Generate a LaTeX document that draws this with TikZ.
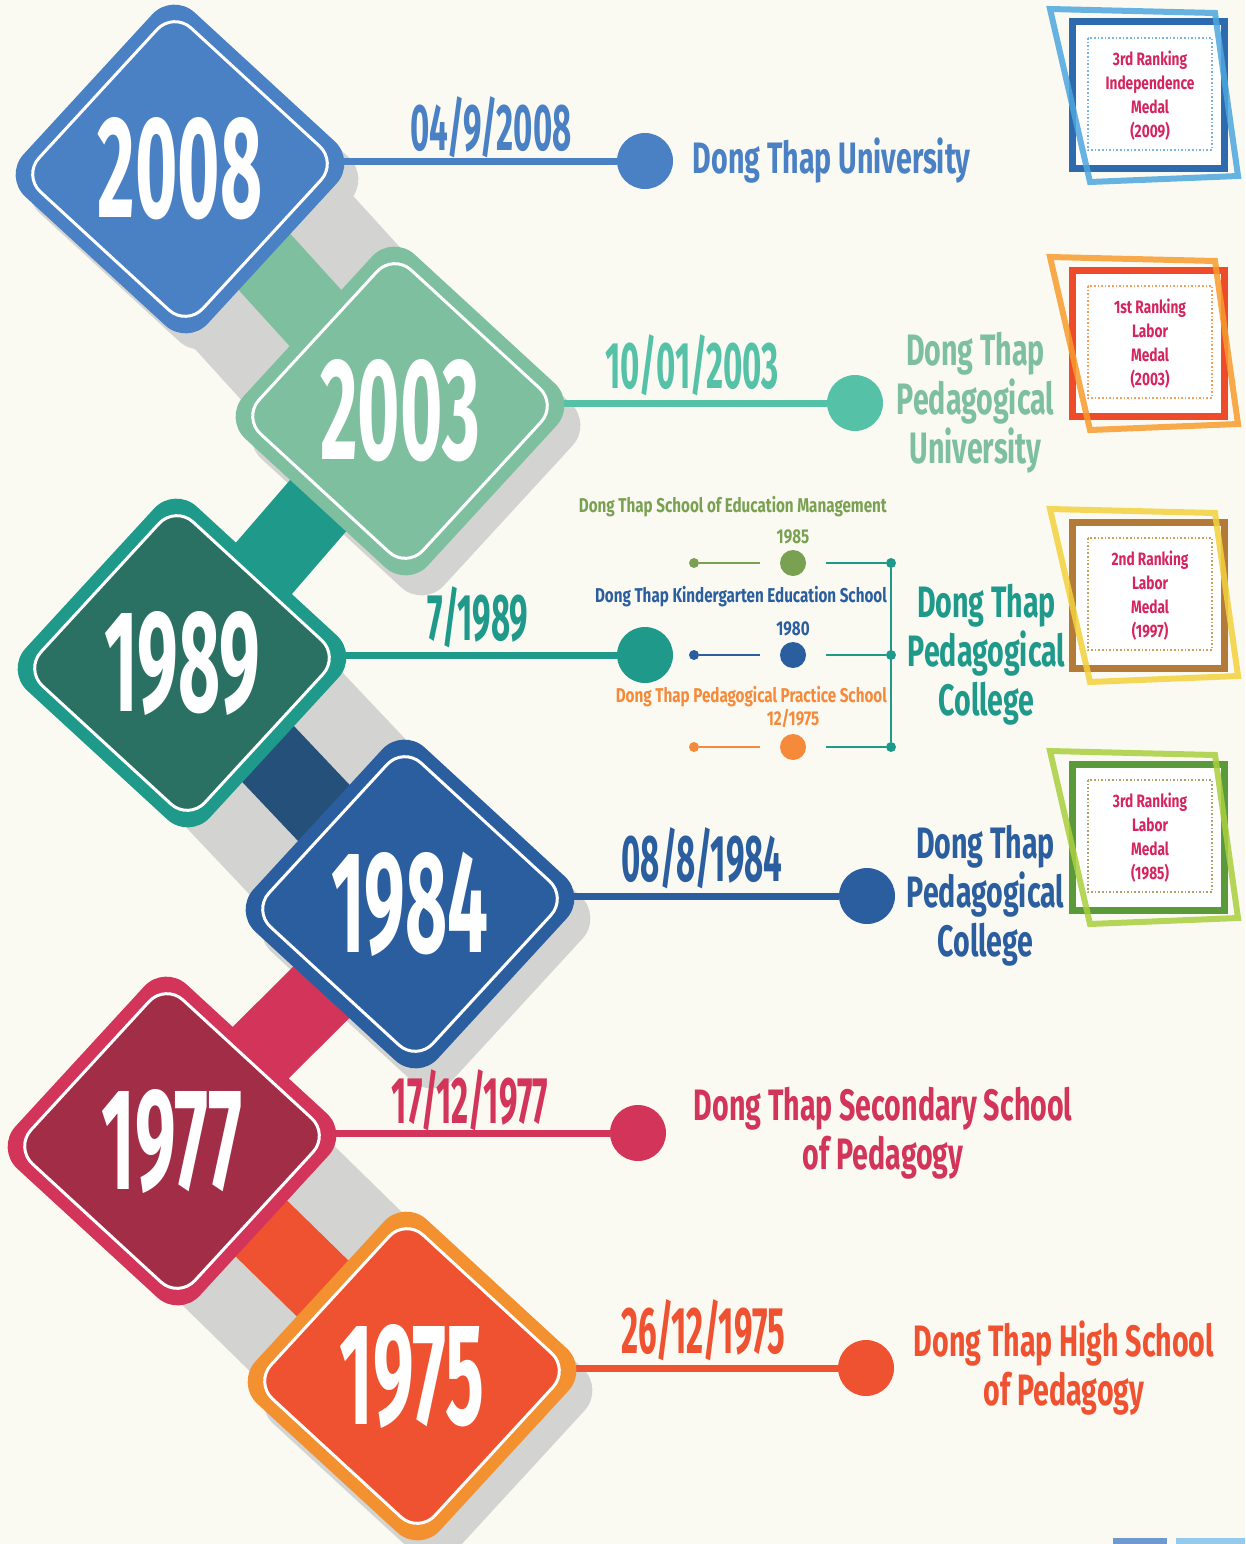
\documentclass[tikz,border=0pt]{standalone}
\usepackage{fontspec}
\usepackage{tikz}
\usetikzlibrary{positioning}
\usetikzlibrary{shapes,shapes.geometric,calc}

\newfontfamily\yearfont[FakeStretch=0.5]{Fira Sans}
\newfontfamily\namefont[FakeStretch=0.65]{Fira Sans}
\newfontfamily\smallfont[FakeStretch=0.76]{Fira Sans}

\definecolor{cream}{HTML}{FAFAF3}
\definecolor{shadowgrey}{HTML}{D3D3D1}
\definecolor{c2008}{HTML}{4A80C4}
\definecolor{c2003}{HTML}{7DBF9E}
\definecolor{l2003}{HTML}{55C2A8}
\definecolor{c1989}{HTML}{1F9A8A}
\definecolor{k1989}{HTML}{2A7163}
\definecolor{bar1984}{HTML}{24507A}
\definecolor{c1984}{HTML}{2B5E9F}
\definecolor{c1977}{HTML}{D3355A}
\definecolor{k1977}{HTML}{A22D47}
\definecolor{c1975}{HTML}{F39130}
\definecolor{k1975}{HTML}{EF5230}
\definecolor{c1985}{HTML}{7AA152}
\definecolor{c1980}{HTML}{2B5E9F}
\definecolor{c12b}{HTML}{F58A3A}
\definecolor{medalred}{HTML}{D6245E}
\definecolor{mblue}{HTML}{2E6AAE}
\definecolor{mbluel}{HTML}{4DA6DF}
\definecolor{mbluedot}{HTML}{7BB4E3}
\definecolor{mred}{HTML}{EE4B2B}
\definecolor{mredl}{HTML}{F89B2C}
\definecolor{mreddot}{HTML}{F4A05A}
\definecolor{mbrown}{HTML}{B47B38}
\definecolor{mbrownl}{HTML}{F4D13B}
\definecolor{mbrowndot}{HTML}{C9A35B}
\definecolor{mgreen}{HTML}{5B9A3B}
\definecolor{mgreenl}{HTML}{AACF3E}
\definecolor{mgreendot}{HTML}{A9A56B}

\pgfdeclarelayer{back}
\pgfdeclarelayer{bars}
\pgfsetlayers{back,bars,main}

\begin{document}
\begin{tikzpicture}[x=1pt,y=-1pt,
    yearrim/.style={diamond, aspect=1, minimum size=354pt, inner sep=0pt, rounded corners=30pt, rotate=2.4},
    yearcore/.style={diamond, aspect=1, minimum size=316pt, inner sep=0pt, rounded corners=24pt, rotate=2.4,
        draw=white, line width=3pt},
    yeartext/.style={text=white, inner sep=0pt, font=\yearfont\bfseries\fontsize{145}{145}\selectfont},
    yearshade/.style={yearrim, fill=shadowgrey},
    shadowband/.style={line width=220pt, shadowgrey},
    yearbar/.style={line width=76pt},
    yearline/.style={line width=7pt},
    bigdot/.style={circle, minimum size=56pt, inner sep=0pt},
    middot/.style={circle, minimum size=26pt, inner sep=0pt},
    tinydot/.style={circle, minimum size=10pt, inner sep=0pt},
    subline/.style={line width=2.5pt},
    datetext/.style={font=\yearfont\bfseries\fontsize{66}{66}\selectfont},
    nametext/.style={font=\namefont\bfseries\fontsize{44}{49}\selectfont, align=center},
    subtext/.style={font=\smallfont\bfseries\fontsize{20}{22}\selectfont, inner sep=0pt},
    medaltext/.style={font=\smallfont\bfseries\fontsize{18}{24}\selectfont, align=center, text=medalred},
    node distance=16pt]

\begin{pgfonlayer}{back}
  \fill[cream] (0,0) rectangle (1245,1544);
\end{pgfonlayer}
\useasboundingbox (0,0) rectangle (1245,1544);

% year diamonds
\node[yearrim, fill=c2008] (y2008) at (180,169) {};
\node[yearcore, fill=c2008] (k2008) at (y2008) {};
\node[yeartext] (w2008) at (y2008) {2008};
\node[yearrim, fill=c2003] (y2003) at (400,411) {};
\node[yearcore, fill=c2003] (k2003) at (y2003) {};
\node[yeartext] (w2003) at (y2003) {2003};
\node[yearrim, fill=c1989] (y1989) at (182,663) {};
\node[yearcore, fill=k1989] (k1989) at (y1989) {};
\node[yeartext] (w1989) at (y1989) {1989};
\node[yearrim, fill=c1984] (y1984) at (410,904) {};
\node[yearcore, fill=c1984] (k1984) at (y1984) {};
\node[yeartext] (w1984) at (y1984) {1984};
\node[yearrim, fill=c1977] (y1977) at (172,1141) {};
\node[yearcore, fill=k1977] (k1977) at (y1977) {};
\node[yeartext] (w1977) at (y1977) {1977};
\node[yearrim, fill=c1975] (y1975) at (412,1376) {};
\node[yearcore, fill=k1975] (k1975) at (y1975) {};
\node[yeartext] (w1975) at (y1975) {1975};

% dots on the lines
\node[bigdot, fill=c2008] (d2008) at (645,161) {};
\node[bigdot, fill=l2003] (d2003) at (855,403) {};
\node[bigdot, fill=c1989] (d1989) at (645,655) {};
\node[bigdot, fill=c1984] (d1984) at (867,896) {};
\node[bigdot, fill=c1977] (d1977) at (638,1133) {};
\node[bigdot, fill=k1975] (d1975) at (866,1368) {};

% dates
\node[datetext, text=c2008] (t2008) at (491,127) {04/9/2008};
\node[datetext, text=l2003] (t2003) at (692,365) {10/01/2003};
\node[datetext, text=c1989] (t1989) at (478,617) {7/1989};
\node[datetext, text=c1984] (t1984) at (702,858) {08/8/1984};
\node[datetext, text=c1977] (t1977) at (470,1100) {17/12/1977};
\node[datetext, text=k1975] (t1975) at (703,1330) {26/12/1975};

% names
\node[nametext, text=c2008, right=of d2008] (n2008) {Dong Thap University};
\node[nametext, text=c2003, right=10pt of d2003] (n2003) {Dong Thap\\Pedagogical\\University};
\node[nametext, text=c1984, right=8pt of d1984] (n1984) {Dong Thap\\Pedagogical\\College};
\node[nametext, text=c1977, right=24pt of d1977] (n1977) {Dong Thap Secondary School\\of Pedagogy};
\node[nametext, text=k1975, right=16pt of d1975] (n1975) {Dong Thap High School\\of Pedagogy};

% the three schools of 1989
\node[tinydot, fill=c1985] (s1985) at (694,563) {};
\node[middot, fill=c1985] (b1985) at (793,563) {};
\node[tinydot, fill=c1989] (j1985) at (891,563) {};
\node[tinydot, fill=c1980] (s1980) at (694,655) {};
\node[middot, fill=c1980] (b1980) at (793,655) {};
\node[tinydot, fill=c1989] (j1980) at (891,655) {};
\node[tinydot, fill=c12b] (s1975) at (694,747) {};
\node[middot, fill=c12b] (b1975) at (793,747) {};
\node[tinydot, fill=c1989] (j1975) at (891,747) {};

\node[subtext, text=c1985, anchor=east] (e1985) at (887,507) {Dong Thap School of Education Management};
\node[subtext, text=c1985, above=6pt of b1985] (v1985) {1985};
\node[subtext, text=c1980, anchor=east] (e1980) at (887,597) {Dong Thap Kindergarten Education School};
\node[subtext, text=c1980, above=6pt of b1980] (v1980) {1980};
\node[subtext, text=c12b, anchor=east] (e12b) at (887,697) {Dong Thap Pedagogical Practice School};
\node[subtext, text=c12b, above=6pt of b1975] (v12b) {12/1975};

\node[nametext, text=c1989, right=8pt of j1980] (n1989) {Dong Thap\\Pedagogical\\College};

\draw[subline, c1985, shorten >=20pt] (s1985) -- (b1985);
\draw[subline, c1989, shorten <=20pt] (b1985) -- (j1985);
\draw[subline, c1980, shorten >=20pt] (s1980) -- (b1980);
\draw[subline, c1989, shorten <=20pt] (b1980) -- (j1980);
\draw[subline, c12b, shorten >=20pt] (s1975) -- (b1975);
\draw[subline, c1989, shorten <=20pt] (b1975) -- (j1975);
\draw[subline, c1989] (j1985) -- (j1975);

% medals
\node[medaltext] (m2009) at (1150,96) {3rd Ranking\\Independence\\Medal\\(2009)};
\node[medaltext] (m2003) at (1150,344) {1st Ranking\\Labor\\Medal\\(2003)};
\node[medaltext] (m1997) at (1150,596) {2nd Ranking\\Labor\\Medal\\(1997)};
\node[medaltext] (m1985) at (1150,838) {3rd Ranking\\Labor\\Medal\\(1985)};

\begin{pgfonlayer}{bars}
  \begin{scope}[shift={(m2009)}]
    \fill[white] (-78,-74) rectangle (74,72);
    \draw[line width=7pt, mblue] (-78,-74) rectangle (74,72);
    \draw[line width=6pt, mbluel, opacity=0.85] (-100,-87) -- (65,-83) -- (88,80) -- (-60,86) -- cycle;
    \draw[line width=1.6pt, dotted, mbluedot] (-62,-58) rectangle (62,54);
  \end{scope}
  \begin{scope}[shift={(m2003)}]
    \fill[white] (-78,-74) rectangle (74,72);
    \draw[line width=7pt, mred] (-78,-74) rectangle (74,72);
    \draw[line width=6pt, mredl, opacity=0.85] (-100,-87) -- (65,-83) -- (88,80) -- (-60,86) -- cycle;
    \draw[line width=1.6pt, dotted, mreddot] (-62,-58) rectangle (62,54);
  \end{scope}
  \begin{scope}[shift={(m1997)}]
    \fill[white] (-78,-74) rectangle (74,72);
    \draw[line width=7pt, mbrown] (-78,-74) rectangle (74,72);
    \draw[line width=6pt, mbrownl, opacity=0.85] (-100,-87) -- (65,-83) -- (88,80) -- (-60,86) -- cycle;
    \draw[line width=1.6pt, dotted, mbrowndot] (-62,-58) rectangle (62,54);
  \end{scope}
  \begin{scope}[shift={(m1985)}]
    \fill[white] (-78,-74) rectangle (74,72);
    \draw[line width=7pt, mgreen] (-78,-74) rectangle (74,72);
    \draw[line width=6pt, mgreenl, opacity=0.85] (-100,-87) -- (65,-83) -- (88,80) -- (-60,86) -- cycle;
    \draw[line width=1.6pt, dotted, mgreendot] (-62,-58) rectangle (62,54);
  \end{scope}

  % long shadows and drop shadows
  \draw[shadowband] (y2008.center) -- (y2003.center);
  \draw[shadowband] (y1989.center) -- (y1984.center);
  \draw[shadowband] (y1977.center) -- (y1975.center);
  \node[yearshade] (h2008) at ($(y2008)+(14,16)$) {};
  \node[yearshade] (h2003) at ($(y2003)+(16,20)$) {};
  \node[yearshade] (h1984) at ($(y1984)+(16,20)$) {};
  \node[yearshade] (h1975) at ($(y1975)+(16,20)$) {};

  % bars between the years
  \draw[yearbar, c2003] (y2008.center) -- (y2003.center);
  \draw[yearbar, c1989] (y2003.center) -- (y1989.center);
  \draw[yearbar, bar1984] (y1989.center) -- (y1984.center);
  \draw[yearbar, c1977] (y1984.center) -- (y1977.center);
  \draw[yearbar, k1975] (y1977.center) -- (y1975.center);

  % lines to the dots
  \draw[yearline, c2008] (d2008) -- (d2008 -| y2008.center);
  \draw[yearline, l2003] (d2003) -- (d2003 -| y2003.center);
  \draw[yearline, c1989] (d1989) -- (d1989 -| y1989.center);
  \draw[yearline, c1984] (d1984) -- (d1984 -| y1984.center);
  \draw[yearline, c1977] (d1977) -- (d1977 -| y1977.center);
  \draw[yearline, k1975] (d1975) -- (d1975 -| y1975.center);

  \fill[c2008!80] (1113,1538) rectangle (1167,1544);
  \fill[mbluel!60] (1176,1538) rectangle (1245,1544);
\end{pgfonlayer}

\end{tikzpicture}
\end{document}
